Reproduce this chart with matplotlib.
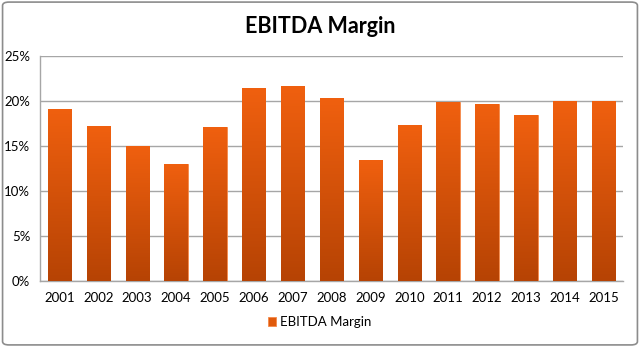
import matplotlib.pyplot as plt
import numpy as np
from matplotlib.colors import LinearSegmentedColormap
from matplotlib.patches import FancyBboxPatch

years = ['2001', '2002', '2003', '2004', '2005', '2006', '2007', '2008',
         '2009', '2010', '2011', '2012', '2013', '2014', '2015']
margin = [19.1, 17.2, 15.0, 13.0, 17.1, 21.4, 21.6, 20.3,
          13.4, 17.3, 19.85, 19.7, 18.4, 20.0, 20.0]

plt.rcParams['font.family'] = ['Lato', 'DejaVu Sans']

fig = plt.figure(figsize=(6.4, 3.47), dpi=100)
ax = fig.add_axes([0.0625, 0.19, 0.911, 0.649])

# outer frame around the chart
fig.patches.append(FancyBboxPatch((0.004, 0.006), 0.992, 0.988,
                                  boxstyle='round,pad=0,rounding_size=0.01',
                                  transform=fig.transFigure, fill=False,
                                  edgecolor='#8c8c8c', linewidth=1.2))

x = np.arange(len(years))
bars = ax.bar(x, margin, width=0.6, color='#e05a0c', edgecolor='#f58a4a',
              linewidth=0.6, zorder=3, label='EBITDA Margin')

# vertical gradient fill, bright orange at the top to darker at the base
cmap = LinearSegmentedColormap.from_list('orange', ['#b64304', '#f0600f'])
grad = np.linspace(0, 1, 256).reshape(-1, 1)
for b in bars:
    bx, by = b.get_x(), b.get_y()
    w, h = b.get_width(), b.get_height()
    im = ax.imshow(grad, cmap=cmap, origin='lower', aspect='auto',
                   extent=(bx, bx + w, by, by + h), zorder=3.5)
    im.set_clip_path(b)

ax.set_xlim(-0.5, len(years) - 0.5)
ax.set_ylim(0, 25)
ax.set_yticks(range(0, 26, 5))
ax.set_yticklabels([f'{v}%' for v in range(0, 26, 5)])
ax.set_xticks(x)
ax.set_xticklabels(years)

ax.grid(axis='y', color='#a6a6a6', linewidth=1, zorder=0)
for s in ['top', 'right']:
    ax.spines[s].set_visible(False)
for s in ['left', 'bottom']:
    ax.spines[s].set_color('#a6a6a6')
    ax.spines[s].set_linewidth(1)
ax.tick_params(axis='y', length=0, labelsize=9.5, pad=7)
ax.tick_params(axis='x', length=0, labelsize=9.5, pad=8)

fig.suptitle('EBITDA Margin', y=0.955, fontsize=15.5, fontweight='bold')

fig.legend(handles=[bars], labels=['EBITDA Margin'], loc='center',
           bbox_to_anchor=(0.5, 0.072), frameon=False, fontsize=9.5,
           handlelength=0.6, handleheight=0.6, handletextpad=0.3)

fig.savefig('out.png', dpi=100)
